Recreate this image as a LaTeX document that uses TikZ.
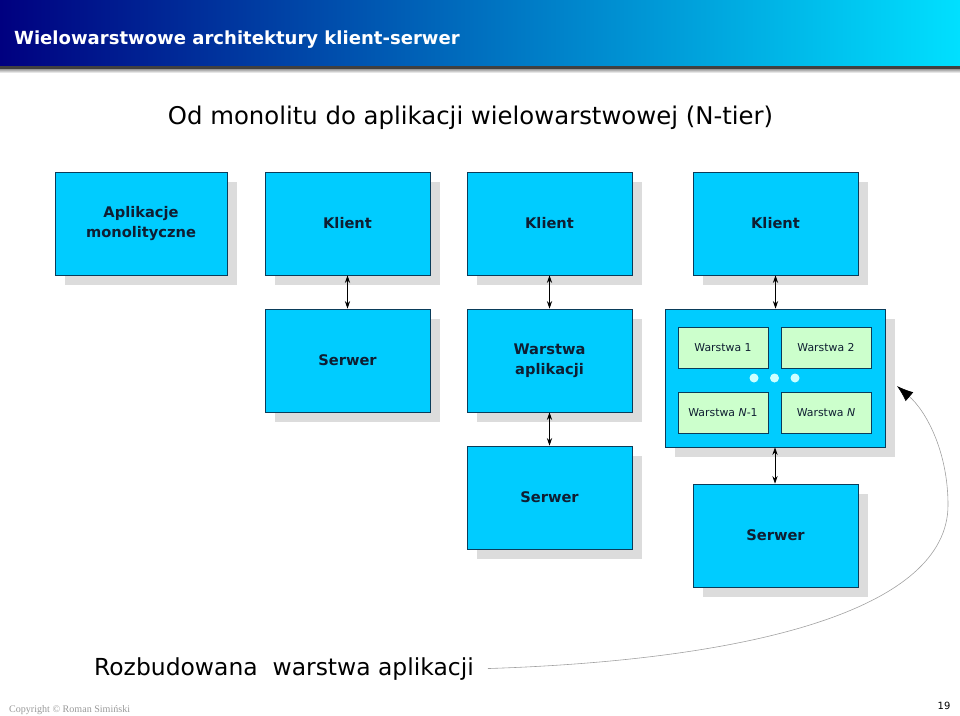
\documentclass[tikz,border=0pt]{standalone}
\usepackage{fontspec}
\setmainfont{DejaVu Sans}
\newfontfamily\copyfont{Liberation Serif}
\usetikzlibrary{shadows,arrows.meta}
\definecolor{boxfill}{RGB}{0,204,255}
\definecolor{boxline}{RGB}{10,60,90}
\definecolor{layerfill}{RGB}{204,255,204}
\definecolor{shadowgrey}{RGB}{220,220,220}
\definecolor{labelink}{RGB}{15,30,50}
\definecolor{barleft}{RGB}{0,0,128}
\definecolor{barright}{RGB}{0,224,255}
\definecolor{dotfill}{RGB}{204,255,255}
\definecolor{curvegrey}{RGB}{160,160,160}

\begin{document}
\begin{tikzpicture}[x=0.03cm, y=-0.03cm,
	tier/.style={draw=boxline, fill=boxfill, line width=0.6pt, minimum width=4.95cm, minimum height=3.09cm, text=labelink, font=\bfseries\fontsize{12.5}{17}\selectfont, align=center, drop shadow={shadow xshift=0.3cm, shadow yshift=-0.3cm, fill=shadowgrey, opacity=1}},
	layer/.style={draw=boxline, fill=layerfill, line width=0.6pt, minimum width=2.7cm, minimum height=1.23cm, text=labelink, font=\fontsize{9.3}{11}\selectfont},
	link/.style={{Stealth[length=6.5pt,width=4.5pt]}-{Stealth[length=6.5pt,width=4.5pt]}, line width=0.7pt}]
				\useasboundingbox (0,0) rectangle (960,715);
				\shade[left color=barleft, right color=barright] (0,0) rectangle (960,66);
				\fill[black!75] (0,66) rectangle (960,69.5);
				\shade[top color=black!35, bottom color=white] (0,69.5) rectangle (960,73);
				\node[anchor=base west, text=white, font=\bfseries\fontsize{15.4}{19}\selectfont] (title) at (10,44) {Wielowarstwowe architektury klient-serwer};
				\node[anchor=base, font=\fontsize{20.8}{24}\selectfont] (subtitle) at (470.5,124) {Od monolitu do aplikacji wielowarstwowej (N-tier)};

				\node[tier, minimum width=5.16cm] (mono) at (141,223.5) {Aplikacje\\monolityczne};
				\node[tier] (client2) at (347.5,223.5) {Klient};
				\node[tier] (client3) at (549.5,223.5) {Klient};
				\node[tier] (client4) at (775.5,223.5) {Klient};
				\node[tier] (server2) at (347.5,360.5) {Serwer};
				\node[tier] (app3) at (549.5,360.5) {Warstwa\\aplikacji};
				\node[tier] (server3) at (549.5,497.5) {Serwer};
				\node[tier, minimum width=6.6cm, minimum height=4.14cm] (app4) at (775,378) {};
				\node[tier] (server4) at (775.5,535.5) {Serwer};

				\node[layer] (layer1) at (723,347.5) {Warstwa 1};
				\node[layer] (layer2) at (826,347.5) {Warstwa 2};
				\node[layer] (layerN1) at (723,412.5) {Warstwa \textit{N}-1};
				\node[layer] (layerN) at (826,412.5) {Warstwa \textit{N}};
				\foreach \dx in {754,774.5,795}
					\fill[dotfill] (\dx,378) circle (4.5);

				\draw[link] (client2) -- (server2);
				\draw[link] (client3) -- (app3);
				\draw[link] (app3) -- (server3);
				\draw[link] (client4.south) -- (client4.south |- app4.north);
				\draw[link] (app4.south |- server4.north) -- (app4.south);

				\node[anchor=base west, font=\fontsize{20}{24}\selectfont] (grow) at (90,675) {Rozbudowana\ \ warstwa aplikacji};
				\coordinate (bend) at (948,505);
				\coordinate (tip) at (897,386);
				\draw[curvegrey, line width=0.5pt, -{Latex[length=14pt,width=10pt,black]}] ([xshift=0.3cm]grow.east) .. controls (750,660) and (948,610) .. (bend) .. controls (948,450) and (925,410) .. (tip);

				\node[anchor=base west, text=black!40, font=\copyfont\fontsize{8.6}{10}\selectfont] (copy) at (5,712) {Copyright \textcopyright{} Roman Simiński};
				\node[anchor=base, font=\fontsize{8.5}{10}\selectfont] (page) at (944,709) {19};
			\end{tikzpicture}
\end{document}
